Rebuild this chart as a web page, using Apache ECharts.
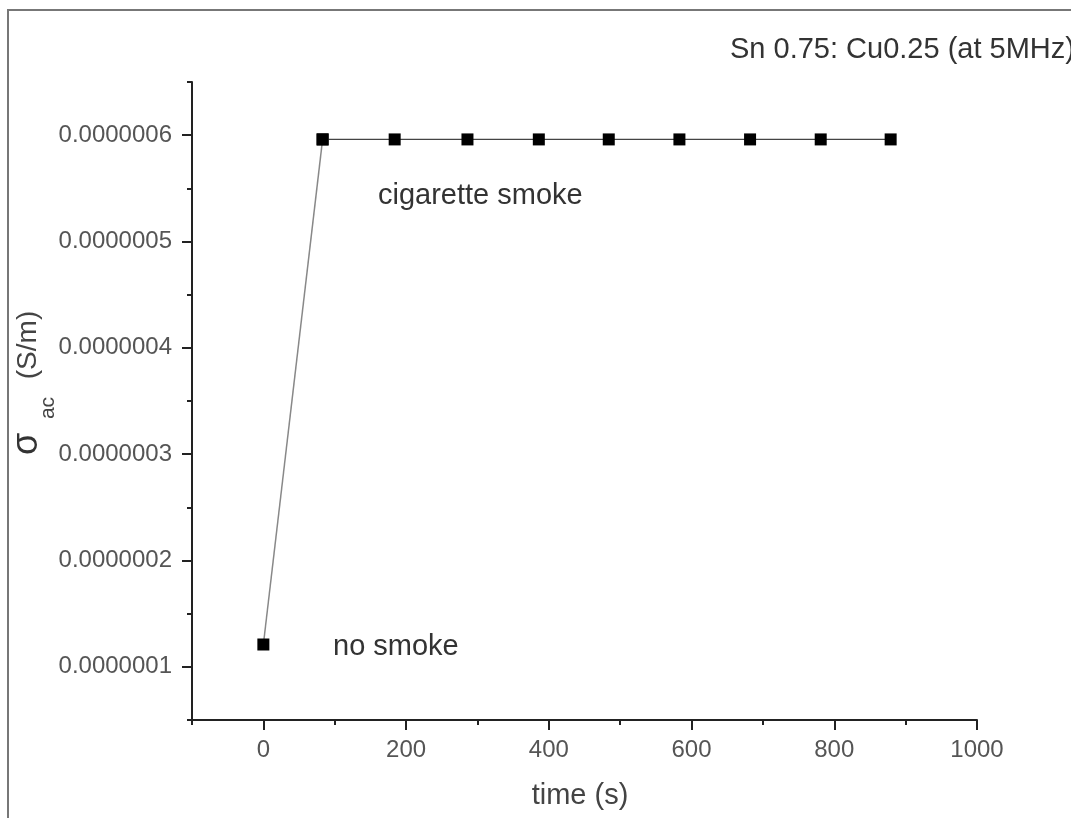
<!DOCTYPE html>
<html>
<head>
<meta charset="utf-8">
<script src="https://cdn.jsdelivr.net/npm/echarts@6/dist/echarts.min.js"></script>
<style>html,body{margin:0;padding:0;background:#fff;}#c{width:1071px;height:818px;}</style>
</head>
<body>
<div id="c"></div>
<script>
// Data
const timeValues = [0, 83, 184, 286, 386, 484, 583, 682, 781, 879];
const sigmaValues = [1.21e-7, 5.96e-7, 5.96e-7, 5.96e-7, 5.96e-7, 5.96e-7, 5.96e-7, 5.96e-7, 5.96e-7, 5.96e-7];
const xMajorTicks = [0, 200, 400, 600, 800, 1000];
const yMajorTicks = [1e-7, 2e-7, 3e-7, 4e-7, 5e-7, 6e-7];
const titleText = 'Sn 0.75: Cu0.25 (at 5MHz)';
const annotations = ['cigarette smoke', 'no smoke'];

const pts = timeValues.map((t, i) => [t, sigmaValues[i]]);
const font = '"Liberation Sans", Arial, sans-serif';
const axisColor = '#222';

const chart = echarts.init(document.getElementById('c'), null, {renderer: 'canvas'});
const option = {
  backgroundColor: '#fff',
  animation: false,
  grid: {left: 192, right: 94, top: 82, bottom: 98, containLabel: false},
  xAxis: [
    {
      type: 'value', min: -100, max: 1000, interval: 100, position: 'bottom',
      axisLine: {show: true, onZero: false, lineStyle: {color: axisColor, width: 2}},
      axisTick: {show: true, length: 5, lineStyle: {color: axisColor, width: 2}},
      axisLabel: {show: false},
      splitLine: {show: false}
    },
    {
      type: 'value', min: -100, max: 1000, position: 'bottom',
      axisLine: {show: false, onZero: false},
      axisTick: {show: true, length: 10, customValues: xMajorTicks, lineStyle: {color: axisColor, width: 2}},
      axisLabel: {show: true, customValues: xMajorTicks, margin: 18, color: '#555', fontSize: 24, fontFamily: font,
        formatter: v => String(v)},
      splitLine: {show: false}
    }
  ],
  yAxis: [
    {
      type: 'value', min: 0.5e-7, max: 6.5e-7, interval: 0.5e-7, position: 'left',
      axisLine: {show: true, onZero: false, lineStyle: {color: axisColor, width: 2}},
      axisTick: {show: true, length: 5, lineStyle: {color: axisColor, width: 2}},
      axisLabel: {show: false},
      splitLine: {show: false}
    },
    {
      type: 'value', min: 0.5e-7, max: 6.5e-7, position: 'left',
      axisLine: {show: false, onZero: false},
      axisTick: {show: true, length: 10, customValues: yMajorTicks, lineStyle: {color: axisColor, width: 2}},
      axisLabel: {show: true, customValues: yMajorTicks, margin: 20, color: '#555', fontSize: 24, fontFamily: font,
        formatter: v => Number(v).toFixed(7)},
      splitLine: {show: false}
    }
  ],
  series: [
    {
      type: 'line', xAxisIndex: 0, yAxisIndex: 0,
      data: pts.slice(0, 2),
      symbol: 'rect', symbolSize: 12,
      itemStyle: {color: '#000'},
      lineStyle: {color: '#888', width: 1.5},
      z: 2
    },
    {
      type: 'line', xAxisIndex: 0, yAxisIndex: 0,
      data: pts.slice(1),
      symbol: 'rect', symbolSize: 12,
      itemStyle: {color: '#000'},
      lineStyle: {color: '#444', width: 1.2},
      z: 3
    }
  ],
  graphic: [
    {type: 'rect', shape: {x: 8, y: 10, width: 1200, height: 1000}, style: {fill: 'none', stroke: '#777', lineWidth: 2}, silent: true},
    {type: 'text', x: 730, y: 50, style: {text: titleText, font: '29px ' + font, fill: '#333', textAlign: 'left', textVerticalAlign: 'middle'}},
    {type: 'text', x: 378, y: 196, style: {text: annotations[0], font: '29px ' + font, fill: '#333', textAlign: 'left', textVerticalAlign: 'middle'}},
    {type: 'text', x: 333, y: 647, style: {text: annotations[1], font: '29px ' + font, fill: '#333', textAlign: 'left', textVerticalAlign: 'middle'}},
    {type: 'text', x: 580, y: 796, style: {text: 'time (s)', font: '29px ' + font, fill: '#444', textAlign: 'center', textVerticalAlign: 'middle'}},
    {type: 'text', x: 27, y: 444, rotation: Math.PI / 2, style: {text: 'σ', font: '36px ' + font, fill: '#333', textAlign: 'center', textVerticalAlign: 'middle'}},
    {type: 'text', x: 48, y: 408, rotation: Math.PI / 2, style: {text: 'ac', font: '21px ' + font, fill: '#444', textAlign: 'center', textVerticalAlign: 'middle'}},
    {type: 'text', x: 28, y: 345, rotation: Math.PI / 2, style: {text: '(S/m)', font: '28px ' + font, fill: '#444', textAlign: 'center', textVerticalAlign: 'middle'}}
  ]
};
chart.setOption(option);
</script>
</body>
</html>
